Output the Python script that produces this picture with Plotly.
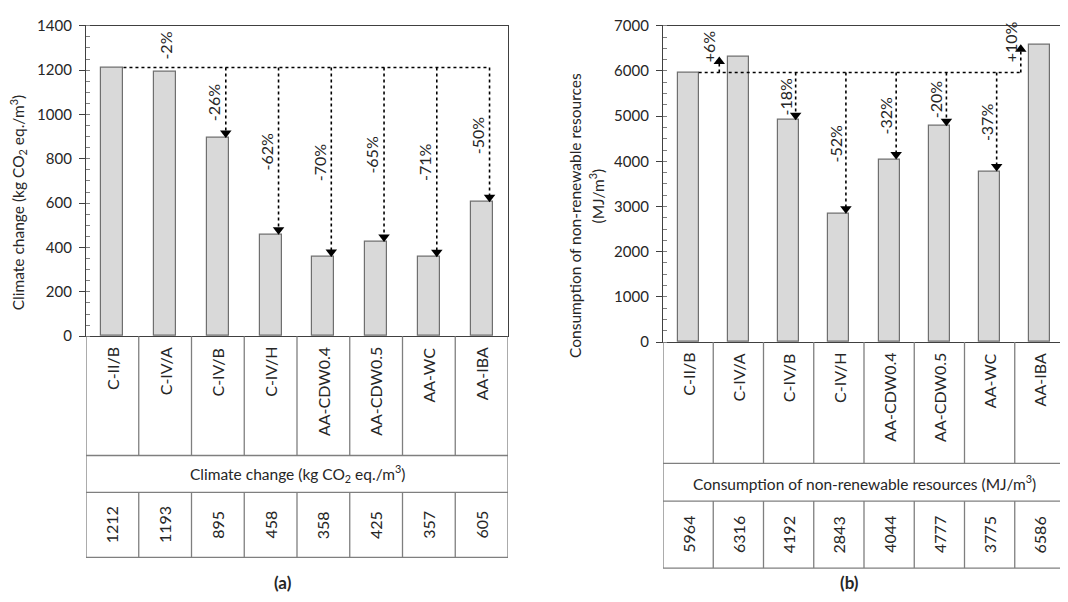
import plotly.graph_objects as go

# ---------------- data ----------------
categories = ["C-II/B", "C-IV/A", "C-IV/B", "C-IV/H", "AA-CDW0.4", "AA-CDW0.5", "AA-WC", "AA-IBA"]

cc_values = [1212, 1193, 895, 458, 358, 425, 357, 605]
cc_labels = ["", "-2%", "-26%", "-62%", "-70%", "-65%", "-71%", "-50%"]
cc_table = ["1212", "1193", "895", "458", "358", "425", "357", "605"]

nrr_values = [5964, 6316, 4912, 2843, 4044, 4777, 3775, 6586]
nrr_labels = ["", "+6%", "-18%", "-52%", "-32%", "-20%", "-37%", "+10%"]
nrr_table = ["5964", "6316", "4192", "2843", "4044", "4777", "3775", "6586"]

cc_title = "Climate change (kg CO<sub>2</sub> eq./m<sup>3</sup>)"
nrr_title = "Consumption of non-renewable resources (MJ/m<sup>3</sup>)"
nrr_ytitle1 = "Consumption of non-renewable resources"
nrr_ytitle2 = "(MJ/m<sup>3</sup>)"

# ---------------- layout helpers ----------------
W, H = 1068, 602
OFF = 8  # page body margin
FONT = "Lato"
TXT = "#262626"
AXC = "#404040"
GRID = "#7f7f7f"


def px(x):
    return (x - OFF) / W


def py(y):
    return 1 - (y - OFF) / H


panels = [
    dict(xa="x", ya="y", x0=86, x1=508, top=16, bot=336, rows=[336, 459, 497, 564],
         ymax=1400, dtick=200, minor=50, values=cc_values, labels=cc_labels, table=cc_table,
         title=cc_title, down_lab=-0.08, down_arr=0.15, tag="(a)", tagx=283),
    dict(xa="x2", ya="y2", x0=663, x1=1065, top=16, bot=342, rows=[342, 467, 506, 575],
         ymax=7000, dtick=1000, minor=250, values=nrr_values, labels=nrr_labels, table=nrr_table,
         title=nrr_title, down_lab=-0.07, down_arr=0.14, tag="(b)", tagx=849),
]

fig = go.Figure()
shapes = []
annotations = []
n = len(categories)
HEAD = 10

for p in panels:
    xa, ya = p["xa"], p["ya"]
    vals = p["values"]
    ref = vals[0]
    upp = p["ymax"] / (p["bot"] - p["top"])  # data units per pixel
    fig.add_trace(go.Bar(
        x=list(range(n)), y=vals, width=0.42, xaxis=xa, yaxis=ya,
        marker=dict(color="#d9d9d9", line=dict(color="#6f6f6f", width=1.2)),
        hoverinfo="skip", showlegend=False,
    ))
    arr_x = []
    head_x, head_y, head_sym = [], [], []
    for i in range(1, n):
        v = vals[i]
        lab = p["labels"][i]
        change = (v - ref) / ref
        if abs(change) < 0.05:
            annotations.append(dict(x=i, y=ref, xref=xa, yref=ya, text=lab, textangle=-90,
                                    showarrow=False, xanchor="center", yanchor="bottom", yshift=6,
                                    font=dict(family=FONT, size=16, color=TXT)))
            continue
        if v < ref:
            ax_ = i + p["down_arr"]
            tip = v + HEAD / 2 * upp
            head_sym.append("triangle-down")
            annotations.append(dict(x=i + p["down_lab"], y=(ref + v) / 2, xref=xa, yref=ya, text=lab,
                                    textangle=-90, showarrow=False, xanchor="center", yanchor="middle",
                                    font=dict(family=FONT, size=16, color=TXT)))
        else:
            ax_ = i - 0.38
            tip = v - HEAD / 2 * upp
            head_sym.append("triangle-up")
            annotations.append(dict(x=ax_ - 0.21, y=ref, xref=xa, yref=ya, text=lab,
                                    textangle=-90, showarrow=False, xanchor="center", yanchor="bottom",
                                    yshift=8, font=dict(family=FONT, size=16, color=TXT)))
        arr_x.append(ax_)
        head_x.append(ax_)
        head_y.append(tip)
        shapes.append(dict(type="line", xref=xa, yref=ya, x0=ax_, x1=ax_, y0=ref, y1=tip,
                           line=dict(color="black", width=1.6, dash="dot")))
    shapes.append(dict(type="line", xref=xa, yref=ya, x0=0.21, x1=max(arr_x), y0=ref, y1=ref,
                       line=dict(color="black", width=1.6, dash="dot")))
    fig.add_trace(go.Scatter(x=head_x, y=head_y, xaxis=xa, yaxis=ya, mode="markers",
                             marker=dict(symbol=head_sym, size=HEAD, color="black"),
                             hoverinfo="skip", showlegend=False, cliponaxis=False))

    # ---------- table below ----------
    r = p["rows"]
    lc = dict(color=GRID, width=1.3)
    for yy in r[1:]:
        shapes.append(dict(type="line", xref=xa, yref="paper", x0=-0.5, x1=n - 0.5,
                           y0=py(yy), y1=py(yy), line=lc))
    for xx in (-0.5, n - 0.5):
        shapes.append(dict(type="line", xref=xa, yref="paper", x0=xx, x1=xx,
                           y0=py(r[0]), y1=py(r[3]), line=lc))
    for k in range(n - 1):
        xx = k + 0.5
        shapes.append(dict(type="line", xref=xa, yref="paper", x0=xx, x1=xx,
                           y0=py(r[0]), y1=py(r[1]), line=lc))
        shapes.append(dict(type="line", xref=xa, yref="paper", x0=xx, x1=xx,
                           y0=py(r[2]), y1=py(r[3]), line=lc))
    for k, c in enumerate(categories):
        annotations.append(dict(x=k, y=py(r[0]), xref=xa, yref="paper", text=c, textangle=-90,
                                showarrow=False, xanchor="center", yanchor="top", yshift=-9,
                                font=dict(family=FONT, size=16, color=TXT)))
        annotations.append(dict(x=k, y=py((r[2] + r[3]) / 2), xref=xa, yref="paper", text=p["table"][k],
                                textangle=-90, showarrow=False, xanchor="center", yanchor="middle",
                                font=dict(family=FONT, size=16, color=TXT)))
    annotations.append(dict(x=(n - 1) / 2, y=py((r[1] + r[2]) / 2), xref=xa, yref="paper", text=p["title"],
                            showarrow=False, xanchor="center", yanchor="middle",
                            font=dict(family=FONT, size=15.5, color=TXT)))
    annotations.append(dict(x=px(p["tagx"]), y=py(590), xref="paper", yref="paper",
                            text="<b>" + p["tag"] + "</b>", showarrow=False,
                            xanchor="center", yanchor="middle",
                            font=dict(family=FONT, size=17, color=TXT)))

# y axis titles
annotations.append(dict(x=px(18), y=py(199), xref="paper", yref="paper", text=cc_title, textangle=-90,
                        showarrow=False, xanchor="center", yanchor="middle",
                        font=dict(family=FONT, size=15.5, color=TXT)))
annotations.append(dict(x=px(575), y=py(212), xref="paper", yref="paper", text=nrr_ytitle1, textangle=-90,
                        showarrow=False, xanchor="center", yanchor="middle",
                        font=dict(family=FONT, size=15.5, color=TXT)))
annotations.append(dict(x=px(597), y=py(192), xref="paper", yref="paper", text=nrr_ytitle2, textangle=-90,
                        showarrow=False, xanchor="center", yanchor="middle",
                        font=dict(family=FONT, size=15.5, color=TXT)))


def xaxis_cfg(p):
    return dict(domain=[px(p["x0"]), px(p["x1"])], range=[-0.5, n - 0.5], showticklabels=False,
                ticks="", showline=True, mirror=True, linecolor=AXC, linewidth=1.3,
                showgrid=False, zeroline=False, fixedrange=True)


def yaxis_cfg(p):
    return dict(domain=[py(p["bot"]), py(p["top"])], range=[0, p["ymax"]], dtick=p["dtick"],
                tick0=0, ticks="outside", ticklen=6, tickcolor=AXC, tickwidth=1.2,
                minor=dict(dtick=p["minor"], ticks="inside", ticklen=4, tickcolor=GRID, tickwidth=1),
                showline=True, mirror=True, linecolor=AXC, linewidth=1.3, showgrid=False,
                zeroline=False, tickfont=dict(family=FONT, size=15, color=TXT), ticklabelstandoff=4,
                ticklabeloverflow="allow", fixedrange=True)


fig.update_layout(
    width=W, height=H, margin=dict(l=0, r=0, t=0, b=0),
    paper_bgcolor="white", plot_bgcolor="white",
    xaxis=dict(anchor="y", **xaxis_cfg(panels[0])),
    yaxis=dict(anchor="x", **yaxis_cfg(panels[0])),
    xaxis2=dict(anchor="y2", **xaxis_cfg(panels[1])),
    yaxis2=dict(anchor="x2", **yaxis_cfg(panels[1])),
    shapes=shapes, annotations=annotations,
    font=dict(family=FONT, color=TXT),
    bargap=0,
)

fig.write_html("out.html")
